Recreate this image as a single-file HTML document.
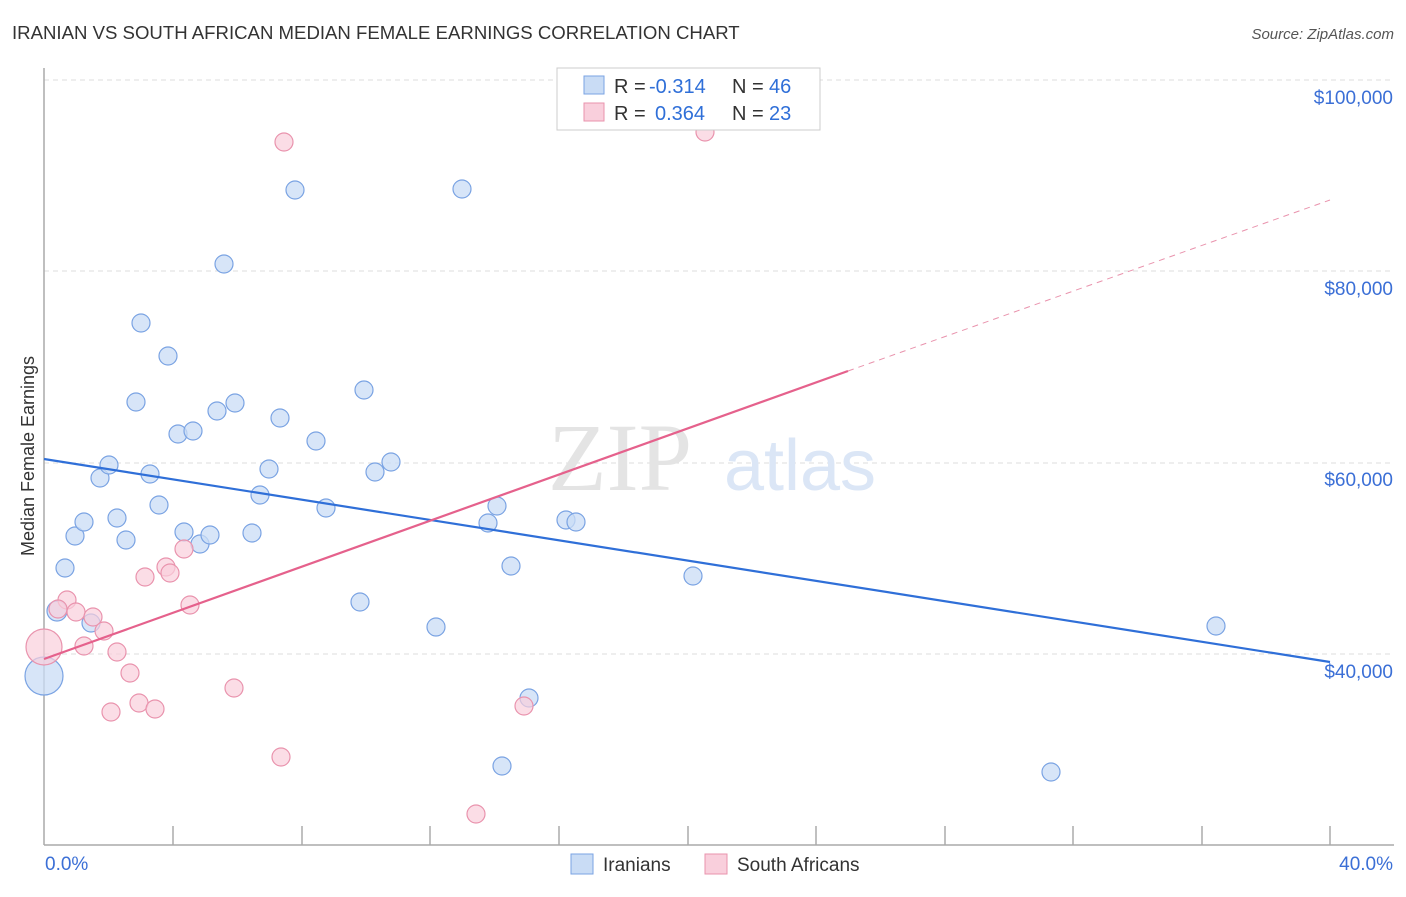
<!DOCTYPE html><html><head><meta charset="utf-8"><style>body{margin:0;background:#fff;font-family:"Liberation Sans",sans-serif}</style></head><body>
<svg width="1406" height="892" xmlns="http://www.w3.org/2000/svg" font-family="Liberation Sans, sans-serif">
<text x="12" y="39" font-size="18.6" fill="#333">IRANIAN VS SOUTH AFRICAN MEDIAN FEMALE EARNINGS CORRELATION CHART</text>
<text x="1394" y="39" font-size="15" fill="#555" text-anchor="end" font-style="italic">Source: ZipAtlas.com</text>
<g stroke="#ddd" stroke-dasharray="5,4"><line x1="44" y1="80" x2="1394" y2="80"/><line x1="44" y1="271" x2="1394" y2="271"/><line x1="44" y1="463" x2="1394" y2="463"/><line x1="44" y1="654" x2="1394" y2="654"/></g>
<g fill="#3b6fd6" font-size="19" text-anchor="end"><text x="1393" y="104">$100,000</text><text x="1393" y="295">$80,000</text><text x="1393" y="486">$60,000</text><text x="1393" y="678">$40,000</text></g>
<text x="620" y="490" font-size="96" fill="#e4e4e4" font-family="Liberation Serif, serif" text-anchor="middle">ZIP</text>
<text x="800" y="490" font-size="72" fill="#dbe6f6" text-anchor="middle">atlas</text>
<g stroke="#aaa" stroke-width="1.5"><line x1="44" y1="68" x2="44" y2="845"/><line x1="44" y1="845" x2="1394" y2="845"/>
<line x1="173" y1="826" x2="173" y2="845"/><line x1="302" y1="826" x2="302" y2="845"/><line x1="430" y1="826" x2="430" y2="845"/><line x1="559" y1="826" x2="559" y2="845"/><line x1="688" y1="826" x2="688" y2="845"/><line x1="816" y1="826" x2="816" y2="845"/><line x1="945" y1="826" x2="945" y2="845"/><line x1="1073" y1="826" x2="1073" y2="845"/><line x1="1202" y1="826" x2="1202" y2="845"/><line x1="1330" y1="826" x2="1330" y2="845"/></g>
<text x="45" y="870" font-size="19" fill="#3b6fd6">0.0%</text><text x="1393" y="870" font-size="19" fill="#3b6fd6" text-anchor="end">40.0%</text>
<text transform="translate(34,456) rotate(-90)" font-size="18" fill="#333" text-anchor="middle">Median Female Earnings</text>
<g fill="#c9dcf5" fill-opacity="0.75" stroke="#7aa3e3" stroke-width="1.2">
<circle cx="44" cy="676" r="19"/><circle cx="57" cy="611" r="10"/><circle cx="65" cy="568" r="9"/><circle cx="75" cy="536" r="9"/><circle cx="84" cy="522" r="9"/><circle cx="100" cy="478" r="9"/><circle cx="109" cy="465" r="9"/><circle cx="117" cy="518" r="9"/><circle cx="126" cy="540" r="9"/><circle cx="136" cy="402" r="9"/><circle cx="141" cy="323" r="9"/><circle cx="150" cy="474" r="9"/><circle cx="159" cy="505" r="9"/><circle cx="168" cy="356" r="9"/><circle cx="178" cy="434" r="9"/><circle cx="184" cy="532" r="9"/><circle cx="193" cy="431" r="9"/><circle cx="200" cy="544" r="9"/><circle cx="210" cy="535" r="9"/><circle cx="217" cy="411" r="9"/><circle cx="224" cy="264" r="9"/><circle cx="235" cy="403" r="9"/><circle cx="252" cy="533" r="9"/><circle cx="260" cy="495" r="9"/><circle cx="269" cy="469" r="9"/><circle cx="280" cy="418" r="9"/><circle cx="295" cy="190" r="9"/><circle cx="316" cy="441" r="9"/><circle cx="326" cy="508" r="9"/><circle cx="360" cy="602" r="9"/><circle cx="364" cy="390" r="9"/><circle cx="375" cy="472" r="9"/><circle cx="391" cy="462" r="9"/><circle cx="436" cy="627" r="9"/><circle cx="462" cy="189" r="9"/><circle cx="488" cy="523" r="9"/><circle cx="497" cy="506" r="9"/><circle cx="502" cy="766" r="9"/><circle cx="511" cy="566" r="9"/><circle cx="529" cy="698" r="9"/><circle cx="566" cy="520" r="9"/><circle cx="576" cy="522" r="9"/><circle cx="693" cy="576" r="9"/><circle cx="1051" cy="772" r="9"/><circle cx="1216" cy="626" r="9"/><circle cx="91" cy="623" r="9"/></g>
<g fill="#f9cfdc" fill-opacity="0.7" stroke="#e993ad" stroke-width="1.2">
<circle cx="44" cy="647" r="18"/><circle cx="67" cy="600" r="9"/><circle cx="58" cy="609" r="9"/><circle cx="76" cy="612" r="9"/><circle cx="93" cy="617" r="9"/><circle cx="104" cy="631" r="9"/><circle cx="84" cy="646" r="9"/><circle cx="117" cy="652" r="9"/><circle cx="130" cy="673" r="9"/><circle cx="111" cy="712" r="9"/><circle cx="139" cy="703" r="9"/><circle cx="155" cy="709" r="9"/><circle cx="145" cy="577" r="9"/><circle cx="166" cy="567" r="9"/><circle cx="170" cy="573" r="9"/><circle cx="184" cy="549" r="9"/><circle cx="190" cy="605" r="9"/><circle cx="234" cy="688" r="9"/><circle cx="284" cy="142" r="9"/><circle cx="281" cy="757" r="9"/><circle cx="476" cy="814" r="9"/><circle cx="524" cy="706" r="9"/><circle cx="705" cy="132" r="9"/></g>
<line x1="44" y1="459" x2="1330" y2="662" stroke="#2f6fd8" stroke-width="2.2"/>
<line x1="44" y1="659" x2="848" y2="371" stroke="#e5618c" stroke-width="2.2"/>
<line x1="848" y1="371" x2="1330" y2="200" stroke="#e993ad" stroke-width="1" stroke-dasharray="6,5"/>
<rect x="557" y="68" width="263" height="62" fill="#fff" stroke="#ccc"/>
<rect x="584" y="76" width="20" height="18" fill="#c9dcf5" stroke="#7aa3e3"/><rect x="584" y="103" width="20" height="18" fill="#f9cfdc" stroke="#e993ad"/>
<g font-size="20" fill="#333">
<text x="614" y="93">R =</text><text x="649" y="93" fill="#2f6fd8">-0.314</text><text x="732" y="93">N =</text><text x="769" y="93" fill="#2f6fd8">46</text>
<text x="614" y="120">R =</text><text x="655" y="120" fill="#2f6fd8">0.364</text><text x="732" y="120">N =</text><text x="769" y="120" fill="#2f6fd8">23</text></g>
<rect x="571" y="854" width="22" height="20" fill="#c9dcf5" stroke="#7aa3e3"/><text x="603" y="871" font-size="19" fill="#333">Iranians</text>
<rect x="705" y="854" width="22" height="20" fill="#f9cfdc" stroke="#e993ad"/><text x="737" y="871" font-size="19" fill="#333">South Africans</text>
</svg></body></html>
